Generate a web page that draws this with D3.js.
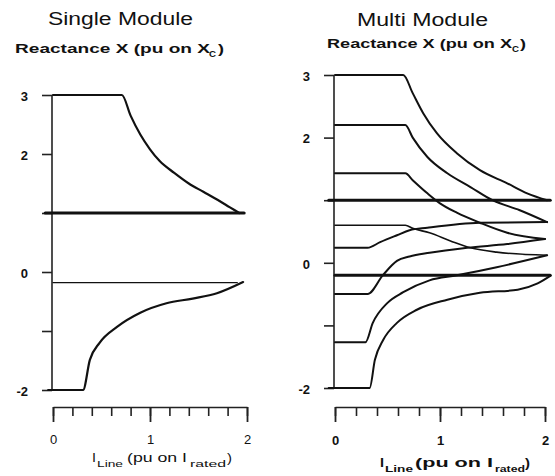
<!DOCTYPE html>
<html><head><meta charset="utf-8">
<script src="https://cdn.jsdelivr.net/npm/d3@7"></script>
<style>
body{margin:0;background:#fff;}
svg{display:block;}
text{font-family:"Liberation Sans",Arial,sans-serif;fill:#111;}
</style></head>
<body>
<svg id="chart" width="555" height="476"></svg>
<script>
// ---------- data ----------
const xTickValues = [0,0.2,0.4,0.6,0.8,1,1.2,1.4,1.6,1.8,2];
const xMajorTicks = [0,1,2];
const yTickValues = [3,2,1,0,-1,-2];
const yLabelled = [3,2,0,-2];

// Single module
const singleTop = [[0,3],[0.71,3],[0.8,2.65],[0.9,2.33],[1.0,2.08],[1.1,1.88],[1.25,1.68],[1.4,1.5],[1.55,1.36],[1.7,1.22],[1.82,1.1],[1.92,1.0]];
const singleOne = [[-0.08,1],[1.97,1]];
const singleLow = [[0,-0.18],[1.9,-0.18]];
const singleBottom = [[-0.05,-2],[0.31,-2],[0.38,-1.49],[0.48,-1.2],[0.66,-0.93],[0.9,-0.69],[1.17,-0.53],[1.44,-0.45],[1.69,-0.36],[1.96,-0.17]];

// Multi module
const multiA = [[0,3],[0.65,3],[0.74,2.71],[0.84,2.39],[0.97,2.07],[1.16,1.75],[1.38,1.48],[1.64,1.27],[1.83,1.11],[2.02,1.0]];
const multiB = [[0,2.2],[0.67,2.2],[0.74,2.0],[0.88,1.69],[1.07,1.43],[1.29,1.21],[1.5,1.0],[1.76,0.84],[2.02,0.65]];
const multiC = [[0,1.43],[0.67,1.43],[0.74,1.32],[0.88,1.11],[1.0,0.95],[1.16,0.8],[1.38,0.64],[1.64,0.48],[2.0,0.38]];
const multiOne = [[-0.06,1],[2.05,1]];
const multiD = [[0,0.6],[0.67,0.6],[0.74,0.55],[0.9,0.48],[1.1,0.35],[1.29,0.24],[1.54,0.17],[2.02,0.12]];
const multiE = [[0,0.24],[0.31,0.24],[0.43,0.33],[0.59,0.44],[0.71,0.52],[0.88,0.56],[1.38,0.64],[2.02,0.65]];
const multiLow = [[0,-0.2],[2.05,-0.2]];
const multiF = [[0,-0.5],[0.31,-0.5],[0.46,-0.19],[0.59,0.03],[0.71,0.1],[0.9,0.16],[1.26,0.24],[1.64,0.3],[2.0,0.38]];
const multiG = [[0,-1.27],[0.29,-1.27],[0.36,-0.96],[0.5,-0.64],[0.65,-0.47],[0.9,-0.28],[1.16,-0.2],[1.54,-0.07],[2.02,0.12]];
const multiH = [[-0.06,-2],[0.33,-2],[0.38,-1.55],[0.46,-1.23],[0.59,-0.96],[0.78,-0.75],[1.07,-0.59],[1.38,-0.48],[1.74,-0.43],[1.93,-0.33],[2.05,-0.21]];

// ---------- layout ----------
const svg = d3.select("#chart");

function txt(g, x, y, s, size, weight, width){
  const t = g.append("text").attr("x",x).attr("y",y).text(s)
    .style("font-size",size+"px").style("font-weight",weight);
  if(width) t.attr("textLength",width).attr("lengthAdjust","spacingAndGlyphs");
  return t;
}

function panel(cfg){
  const g = svg.append("g");
  const x = d3.scaleLinear().domain([0,2]).range(cfg.xr);
  const y = d3.scaleLinear().domain([3,-2]).range(cfg.yr);
  const line = d3.line().x(d=>x(d[0])).y(d=>y(d[1])).curve(d3.curveMonotoneX);

  // titles
  txt(g, cfg.t.x, cfg.t.y, cfg.t.s, 18, "normal", cfg.t.w);
  txt(g, cfg.s.x, cfg.s.y, "Reactance X (pu on X", 13, "bold", cfg.s.w);
  txt(g, cfg.s.cx, cfg.s.y+4, "C", 9, "bold", 7);
  txt(g, cfg.s.px, cfg.s.y, ")", 13, "bold", 6);

  // y axis
  const ya = g.append("g").attr("transform",`translate(${x(0)-1},0)`)
    .call(d3.axisLeft(y).tickValues(yTickValues).tickSize(10).tickSizeOuter(0)
      .tickPadding(cfg.yPad)
      .tickFormat(d=> yLabelled.includes(d) ? String(d) : ""));
  ya.selectAll("path,line").attr("stroke","#222").attr("stroke-width",1.6);
  ya.select("path.domain").attr("d",`M0,${y(3)}V${y(-2)}`);
  ya.selectAll("text").style("font-size","13px").style("font-weight","bold")
    .attr("fill","#111").attr("dy","0.4em");

  // x axis (minor + major)
  const xm = g.append("g").attr("transform",`translate(0,${cfg.axisY})`)
    .call(d3.axisBottom(x).tickValues(xTickValues).tickSize(9).tickSizeOuter(0).tickFormat(""));
  xm.selectAll("path,line").attr("stroke","#222").attr("stroke-width",1.6);
  const xM = g.append("g").attr("transform",`translate(0,${cfg.axisY})`)
    .call(d3.axisBottom(x).tickValues(xMajorTicks).tickSize(15).tickSizeOuter(0)
      .tickPadding(cfg.xPad).tickFormat(d3.format("d")));
  xM.select("path.domain").remove();
  xM.selectAll("line").attr("stroke","#222").attr("stroke-width",1.8);
  xM.selectAll("text").style("font-size","13px").style("font-weight",cfg.xWeight).attr("fill","#111");

  // x title
  const xt = cfg.xt;
  txt(g, xt.x, xt.y, "I", 13, cfg.xWeight, xt.w0);
  txt(g, xt.x1, xt.y+5, "Line", 9, cfg.xWeight, xt.w1);
  txt(g, xt.x2, xt.y, "(pu on I", 13, cfg.xWeight, xt.w2);
  txt(g, xt.x3, xt.y+5, "rated", 9, cfg.xWeight, xt.w3);
  txt(g, xt.x4, xt.y, ")", 13, cfg.xWeight, 5);

  // series
  cfg.series.forEach(s=>{
    g.append("path").datum(s.d).attr("d",line)
      .attr("fill","none").attr("stroke","#111")
      .attr("stroke-width",s.w).attr("stroke-linejoin","round").attr("stroke-linecap","round");
  });
}

panel({
  xr:[53,247], yr:[95,390], axisY:407, yPad:14, xPad:13, xWeight:"normal",
  t:{x:48,y:25,w:145,s:"Single Module"},
  s:{x:15,y:53,w:195,cx:209,px:218},
  xt:{x:92,y:462,w0:4,x1:97,w1:26,x2:127,w2:60,x3:190,w3:36,x4:227},
  series:[
    {d:singleTop,w:2.2},
    {d:singleOne,w:3.2},
    {d:singleLow,w:1.3},
    {d:singleBottom,w:2.2}
  ]
});

panel({
  xr:[335,545], yr:[75,388], axisY:407, yPad:14, xPad:14, xWeight:"bold",
  t:{x:357,y:26,w:131,s:"Multi Module"},
  s:{x:327,y:48,w:185,cx:512,px:520},
  xt:{x:380,y:467,w0:4,x1:385,w1:28,x2:415,w2:78,x3:495,w3:30,x4:525},
  series:[
    {d:multiA,w:2},
    {d:multiB,w:2},
    {d:multiC,w:2},
    {d:multiOne,w:3},
    {d:multiD,w:1.6},
    {d:multiE,w:2},
    {d:multiLow,w:3},
    {d:multiF,w:2},
    {d:multiG,w:2},
    {d:multiH,w:2}
  ]
});
</script>
</body></html>
